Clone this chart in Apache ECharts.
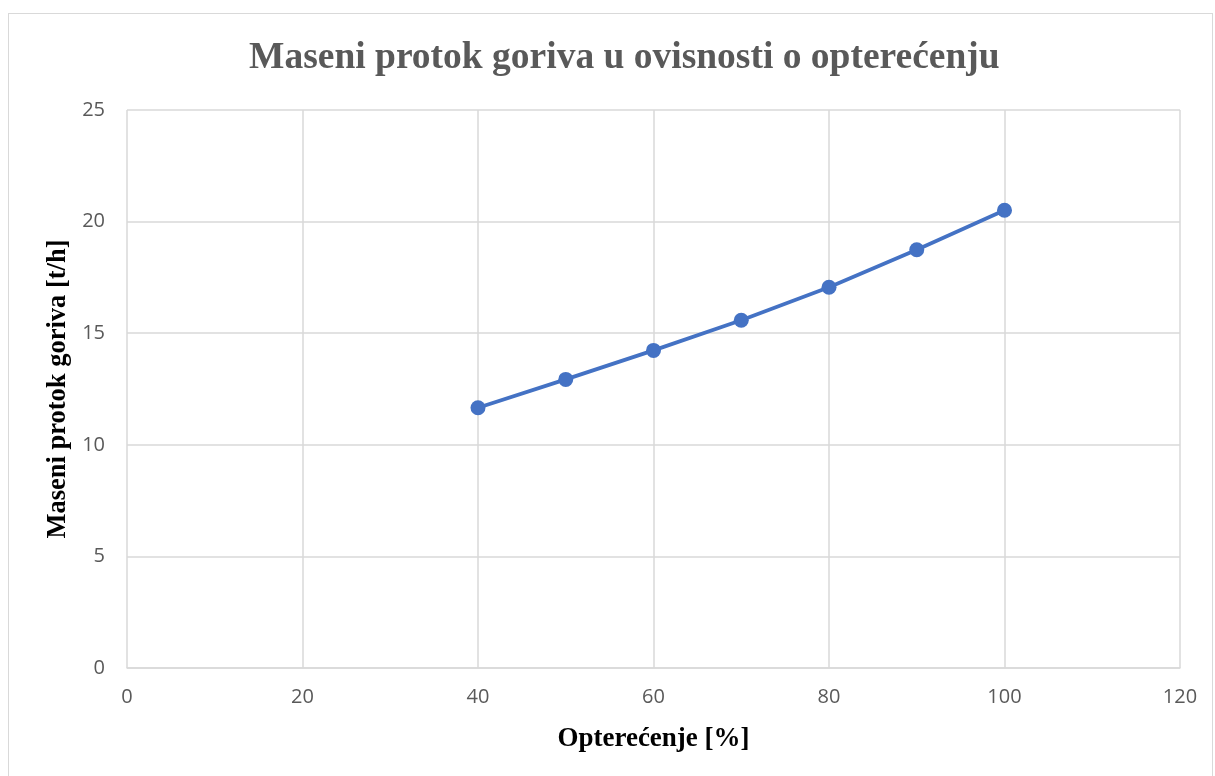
<!DOCTYPE html>
<html lang="hr">
<head>
    <meta charset="UTF-8">
    <title>Maseni protok goriva</title>
    <script src="https://cdn.jsdelivr.net/npm/echarts@6.0.0/dist/echarts.min.js"></script>
    <style>
        * { margin: 0; padding: 0; box-sizing: border-box; }
        body { background: #fff; }
        .frame {
            position: absolute;
            left: 8px;
            top: 13px;
            width: 1205px;
            height: 775px;
            border: 1px solid #d9d9d9;
        }
        #chart {
            position: absolute;
            left: 0;
            top: 0;
            width: 1215px;
            height: 776px;
        }
    </style>
</head>
<body>
    <div class="frame"></div>
    <div id="chart"></div>

    <script>
        // podaci očitani s grafa
        const opterecenje = [40, 50, 60, 70, 80, 90, 100];
        const protok = [11.66, 12.93, 14.23, 15.58, 17.06, 18.74, 20.51];

        const chart = echarts.init(document.getElementById('chart'));

        const option = {
            animation: false,
            title: {
                text: 'Maseni protok goriva u ovisnosti o opterećenju',
                left: 244,
                top: 34,
                textStyle: {
                    fontFamily: 'Liberation Serif',
                    fontSize: 37.5,
                    fontWeight: 'bold',
                    color: '#595959'
                }
            },
            grid: {
                left: 127,
                right: 35,
                top: 110,
                bottom: 108
            },
            xAxis: {
                type: 'value',
                min: 0,
                max: 120,
                interval: 20,
                name: 'Opterećenje [%]',
                nameLocation: 'middle',
                nameGap: 58,
                nameTextStyle: {
                    fontFamily: 'Liberation Serif',
                    fontSize: 27,
                    fontWeight: 'bold',
                    color: '#000'
                },
                axisLine: { show: true, lineStyle: { color: '#d9d9d9', width: 1.5 } },
                axisTick: { show: false },
                axisLabel: {
                    fontFamily: 'Open Sans',
                    fontSize: 20,
                    color: '#595959',
                    margin: 19
                },
                splitLine: { show: true, lineStyle: { color: '#d9d9d9', width: 1.5 } }
            },
            yAxis: {
                type: 'value',
                min: 0,
                max: 25,
                interval: 5,
                name: 'Maseni protok goriva [t/h]',
                nameLocation: 'middle',
                nameGap: 53,
                nameTextStyle: {
                    fontFamily: 'Liberation Serif',
                    fontSize: 26.5,
                    fontWeight: 'bold',
                    color: '#000'
                },
                axisLine: { show: false },
                axisTick: { show: false },
                axisLabel: {
                    fontFamily: 'Open Sans',
                    fontSize: 20,
                    color: '#595959',
                    margin: 22
                },
                splitLine: { show: true, lineStyle: { color: '#d9d9d9', width: 1.5 } }
            },
            series: [{
                type: 'line',
                data: opterecenje.map((x, i) => [x, protok[i]]),
                symbol: 'circle',
                symbolSize: 15,
                lineStyle: { color: '#4472c4', width: 3.8 },
                itemStyle: { color: '#4472c4' }
            }]
        };

        chart.setOption(option);
    </script>
</body>
</html>
